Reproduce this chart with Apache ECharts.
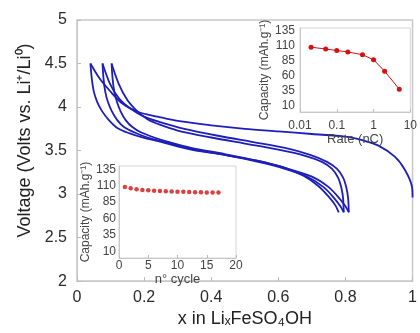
<!DOCTYPE html>
<html>
<head>
<meta charset="utf-8">
<script src="https://cdn.jsdelivr.net/npm/echarts@6/dist/echarts.min.js"></script>
<style>
  html, body { margin: 0; padding: 0; background: #fff; }
  #main { width: 420px; height: 333px; }
</style>
</head>
<body>
<div id="main"></div>
<script>
var dom = document.getElementById("main");
var myChart = echarts.init(dom);
var lineColor = "#1e1eb9";
var dotColor = "#d41010";
var fontName = "Liberation Sans, Arial, sans-serif";

// main plot: voltage vs x, one array per half-cycle  [x, V]
var charge1 = [
    [1.0, 2.96], [0.998, 3.09], [0.977, 3.28], [0.947, 3.43], [0.897, 3.56],
    [0.85, 3.62], [0.80, 3.66], [0.70, 3.69], [0.60, 3.72], [0.50, 3.75],
    [0.40, 3.79], [0.30, 3.84], [0.24, 3.89], [0.185, 3.94], [0.135, 4.04],
    [0.097, 4.19], [0.067, 4.33], [0.040, 4.50]
];
var discharge1 = [
    [0.040, 4.50], [0.044, 4.33], [0.050, 4.18], [0.060, 4.06], [0.075, 3.95],
    [0.095, 3.85], [0.12, 3.76], [0.155, 3.70], [0.20, 3.645], [0.25, 3.60],
    [0.34, 3.51], [0.44, 3.45], [0.54, 3.38], [0.62, 3.30], [0.70, 3.20],
    [0.75, 3.08], [0.78, 2.96], [0.80, 2.86], [0.81, 2.79]
];
var charge2 = [
    [0.81, 2.79], [0.808, 2.95], [0.803, 3.07], [0.793, 3.19], [0.775, 3.29],
    [0.745, 3.37], [0.695, 3.45], [0.62, 3.53], [0.52, 3.60], [0.42, 3.67],
    [0.32, 3.75], [0.245, 3.83], [0.20, 3.89], [0.16, 3.98], [0.125, 4.10],
    [0.098, 4.27], [0.076, 4.50]
];
var discharge2 = [
    [0.076, 4.50], [0.079, 4.33], [0.084, 4.18], [0.092, 4.06], [0.104, 3.95],
    [0.12, 3.85], [0.14, 3.77], [0.17, 3.71], [0.21, 3.65], [0.26, 3.60],
    [0.34, 3.52], [0.44, 3.45], [0.54, 3.37], [0.62, 3.29], [0.685, 3.20],
    [0.735, 3.08], [0.765, 2.96], [0.785, 2.86], [0.795, 2.79]
];
var charge3 = [
    [0.795, 2.79], [0.793, 2.95], [0.788, 3.07], [0.778, 3.19], [0.76, 3.29],
    [0.73, 3.37], [0.68, 3.44], [0.60, 3.51], [0.50, 3.58], [0.40, 3.65],
    [0.30, 3.73], [0.245, 3.80], [0.21, 3.86], [0.18, 3.95], [0.15, 4.08],
    [0.124, 4.27], [0.103, 4.50]
];
var discharge3 = [
    [0.103, 4.50], [0.106, 4.33], [0.111, 4.18], [0.119, 4.06], [0.13, 3.95],
    [0.145, 3.85], [0.165, 3.77], [0.19, 3.71], [0.23, 3.65], [0.28, 3.59],
    [0.34, 3.53], [0.44, 3.46], [0.54, 3.38], [0.62, 3.30], [0.675, 3.21],
    [0.72, 3.09], [0.75, 2.97], [0.77, 2.87], [0.78, 2.79]
];
var curves = [charge1, discharge1, charge2, discharge2, charge3, discharge3];

// inset top-right: capacity vs rate
var rateX = [0.02, 0.05, 0.1, 0.2, 0.5, 1, 2, 5];
var rateCap = [108, 105, 102.5, 100, 95.5, 87, 68, 38];

// inset bottom-left: capacity vs cycle number
var cycleN = [1, 2, 3, 4, 5, 6, 7, 8, 9, 10, 11, 12, 13, 14, 15, 16, 17];
var cycleCap = [108, 106, 104.5, 103.5, 103, 102.5, 102, 101.5, 101.2, 101, 100.7, 100.5, 100.2, 100, 99.8, 99.6, 99.5];

var capTicks = [10, 35, 60, 85, 110, 135];

var curveSeries = curves.map(function (c) {
    return {
        type: 'line',
        xAxisIndex: 0,
        yAxisIndex: 0,
        data: c,
        showSymbol: false,
        smooth: 0.3,
        lineStyle: { color: lineColor, width: 1.8 },
        z: 2
    };
});

var insetName = {
    color: '#444',
    fontSize: 12,
    fontFamily: fontName
};
var insetLabel = {
    color: '#444',
    fontSize: 12,
    fontFamily: fontName
};

var option = {
    backgroundColor: '#fff',
    animation: false,
    grid: [
        { left: 77, right: 2, top: 20, bottom: 46, show: true, borderColor: '#c8c8c8', borderWidth: 1.5 },
        { left: 300, right: 8, top: 28, bottom: 221, show: true, borderColor: '#d4d4d4', backgroundColor: '#fff', z: 5 },
        { left: 119, right: 184, top: 166, bottom: 75, show: true, borderColor: '#d4d4d4', backgroundColor: '#fff', z: 5 }
    ],
    xAxis: [
        {
            gridIndex: 0, type: 'value', min: 0, max: 1, interval: 0.2,
            name: 'x in LiₓFeSO₄OH', nameLocation: 'middle', nameGap: 27,
            nameTextStyle: { color: '#222', fontSize: 18, fontFamily: fontName },
            axisLine: { lineStyle: { color: '#c8c8c8' } },
            axisTick: { inside: true, length: 4, lineStyle: { color: '#bbb' } },
            axisLabel: { color: '#2a2a2a', fontSize: 16, margin: 8, fontFamily: fontName },
            splitLine: { show: false }
        },
        {
            gridIndex: 1, type: 'log', min: 0.01, max: 10, logBase: 10,
            name: 'Rate (nC)', nameLocation: 'middle', nameGap: 15,
            nameTextStyle: { color: '#444', fontSize: 13, fontFamily: fontName },
            axisLine: { lineStyle: { color: '#c8c8c8' } },
            axisTick: { inside: true, length: 3, lineStyle: { color: '#bbb' } },
            axisLabel: insetLabel,
            splitLine: { show: false },
            z: 6
        },
        {
            gridIndex: 2, type: 'value', min: 0, max: 20, interval: 5,
            name: 'n° cycle', nameLocation: 'middle', nameGap: 12,
            nameTextStyle: { color: '#444', fontSize: 13, fontFamily: fontName },
            axisLine: { lineStyle: { color: '#c8c8c8' } },
            axisTick: { inside: true, length: 3, lineStyle: { color: '#bbb' } },
            axisLabel: { color: '#444', fontSize: 12, margin: 2, fontFamily: fontName },
            splitLine: { show: false },
            z: 6
        }
    ],
    yAxis: [
        {
            gridIndex: 0, type: 'value', min: 2, max: 5, interval: 0.5,
            name: 'Voltage (Volts vs. Li⁺/Li⁰)', nameLocation: 'middle', nameGap: 38,
            nameTextStyle: { color: '#222', fontSize: 18, fontFamily: fontName, padding: [0, 0, 0, 20] },
            axisLine: { show: true, lineStyle: { color: '#c8c8c8' } },
            axisTick: { show: true, inside: true, length: 4, lineStyle: { color: '#bbb' } },
            axisLabel: { color: '#2a2a2a', fontSize: 16, margin: 10, fontFamily: fontName },
            splitLine: { show: false }
        },
        {
            gridIndex: 1, type: 'value', min: 0, max: 140,
            name: 'Capacity (mAh.g⁻¹)', nameLocation: 'middle', nameGap: 24,
            nameTextStyle: insetName,
            axisLine: { show: true, lineStyle: { color: '#c8c8c8' } },
            axisTick: { show: false },
            axisLabel: { color: '#444', fontSize: 12, margin: 5, fontFamily: fontName, customValues: capTicks },
            splitLine: { show: false },
            z: 6
        },
        {
            gridIndex: 2, type: 'value', min: 0, max: 140,
            name: 'Capacity (mAh.g⁻¹)', nameLocation: 'middle', nameGap: 22,
            nameTextStyle: insetName,
            axisLine: { show: true, lineStyle: { color: '#c8c8c8' } },
            axisTick: { show: false },
            axisLabel: { color: '#444', fontSize: 12, margin: 3, fontFamily: fontName, customValues: capTicks },
            splitLine: { show: false },
            z: 6
        }
    ],
    series: curveSeries.concat([
        {
            type: 'line',
            xAxisIndex: 1,
            yAxisIndex: 1,
            data: rateX.map(function (r, i) { return [r, rateCap[i]]; }),
            symbol: 'circle',
            symbolSize: 5,
            itemStyle: { color: dotColor },
            lineStyle: { color: dotColor, width: 1 },
            z: 7
        },
        {
            type: 'scatter',
            xAxisIndex: 2,
            yAxisIndex: 2,
            data: cycleN.map(function (n, i) { return [n, cycleCap[i]]; }),
            symbol: 'circle',
            symbolSize: 4.5,
            itemStyle: { color: dotColor },
            z: 7
        }
    ])
};
myChart.setOption(option);
</script>
</body>
</html>
